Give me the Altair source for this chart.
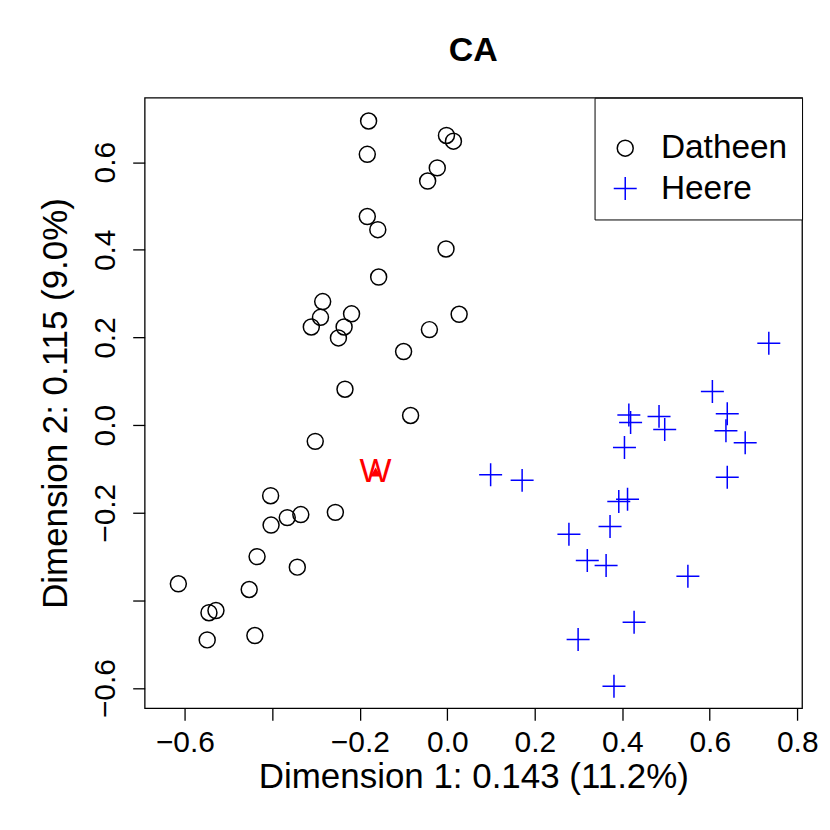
import altair as alt
import pandas as pd

# Datheen (circles)
dat_x = [-0.180, -0.002, 0.014, -0.183, -0.023, -0.045, -0.183, -0.159, -0.003, -0.157,
         -0.285, -0.290, -0.311, -0.219, -0.236, -0.249, 0.027, -0.041, -0.100, -0.234,
         -0.084, -0.302, -0.404, -0.366, -0.335, -0.256, -0.403, -0.435, -0.343, -0.615,
         -0.453, -0.529, -0.545, -0.440, -0.549]
dat_y = [0.694, 0.661, 0.648, 0.618, 0.587, 0.557, 0.476, 0.446, 0.402, 0.338,
         0.282, 0.246, 0.224, 0.254, 0.224, 0.199, 0.253, 0.218, 0.168, 0.082,
         0.022, -0.037, -0.161, -0.211, -0.204, -0.199, -0.228, -0.300, -0.324, -0.362,
         -0.375, -0.423, -0.428, -0.480, -0.490]

# Heere (crosses)
heere_x = [0.735, 0.606, 0.640, 0.415, 0.419, 0.484, 0.497, 0.637, 0.681, 0.405,
           0.099, 0.171, 0.640, 0.392, 0.412, 0.372, 0.278, 0.320, 0.363, 0.550,
           0.427, 0.299, 0.381]
heere_y = [0.187, 0.077, 0.026, 0.023, 0.006, 0.020, -0.010, -0.013, -0.040, -0.051,
           -0.113, -0.126, -0.119, -0.174, -0.169, -0.231, -0.249, -0.309, -0.320, -0.345,
           -0.450, -0.489, -0.596]

# Supplementary point "W"
w_x = [-0.164]
w_y = [-0.107]
w_label = ["W"]

groups = ["Datheen", "Heere"]
x_ticks = [-0.6, -0.4, -0.2, 0.0, 0.2, 0.4, 0.6, 0.8]
y_ticks = [-0.6, -0.4, -0.2, 0.0, 0.2, 0.4, 0.6]

df = pd.DataFrame({
    "dim1": dat_x + heere_x,
    "dim2": dat_y + heere_y,
    "group": [groups[0]] * len(dat_x) + [groups[1]] * len(heere_x),
})
df_w = pd.DataFrame({"dim1": w_x, "dim2": w_y, "label": w_label})

FONT = "Liberation Sans"
CROSS = "M-1.44,0H1.44M0,-1.44V1.44"

label_expr = "abs(datum.value + 0.4) < 1e-9 ? '' : format(datum.value, '.1f')"

x_enc = alt.X(
    "dim1:Q",
    title="Dimension 1: 0.143 (11.2%)",
    scale=alt.Scale(domain=[-0.692, 0.811], nice=False, zero=False),
    axis=alt.Axis(values=x_ticks, labelExpr=label_expr, labelBaseline="alphabetic",
                  labelPadding=31.7, titleBaseline="alphabetic", titleY=79.4, titleX=329.5),
)
y_enc = alt.Y(
    "dim2:Q",
    title="Dimension 2: 0.115 (9.0%)",
    scale=alt.Scale(domain=[-0.646, 0.747], nice=False, zero=False),
    axis=alt.Axis(values=y_ticks, labelExpr=label_expr, labelAngle=-90, labelAlign="center",
                  labelBaseline="alphabetic", labelPadding=18.7, titleAngle=-90,
                  titleBaseline="alphabetic", titleX=-78, titleY=306, titleAlign="center"),
)

legend = alt.Legend(
    title=" ", orient="none", legendX=451, legendY=0, direction="vertical",
    strokeColor="black", fillColor="white", padding=14,
    symbolSize=256, symbolStrokeWidth=1.5, labelFont=FONT, labelFontSize=33.5,
    labelColor="black", labelOffset=19, rowPadding=5.5,
    titleFontSize=8, titlePadding=11.8,
)

points = alt.Chart(df).mark_point(size=256, strokeWidth=1.5, filled=False, opacity=1).encode(
    x=x_enc,
    y=y_enc,
    shape=alt.Shape("group:N", scale=alt.Scale(domain=groups, range=["circle", CROSS]), legend=legend),
    color=alt.Color("group:N", scale=alt.Scale(domain=groups, range=["black", "#0000ff"]), legend=legend),
)

w_tri = alt.Chart(df_w).mark_point(shape="triangle-up", filled=True, size=110, color="#ff0000", opacity=1).encode(
    x=x_enc, y=y_enc
)
w_text = alt.Chart(df_w).mark_text(font=FONT, fontSize=34, color="#ff0000", align="center", baseline="middle").encode(
    x=x_enc, y=y_enc, text="label:N"
)

chart = alt.layer(points, w_tri, w_text).properties(
    width=659, height=612,
    background="white",
    title=alt.Title("CA", font=FONT, fontSize=34, fontWeight="bold", color="black",
                    anchor="middle", baseline="alphabetic", offset=2),
    padding={"left": 137, "top": 89, "right": 20, "bottom": 100},
    autosize=alt.AutoSizeParams(type="none"),
).configure_view(
    stroke="black", strokeWidth=1.3
).configure_axis(
    grid=False, domain=False, tickColor="black", tickSize=12, tickWidth=1.3,
    labelFont=FONT, labelFontSize=30, labelColor="black", labelFlush=False, labelOverlap=False,
    titleFont=FONT, titleFontSize=35, titleFontWeight="normal", titleColor="black",
)

chart.save("out.html", embed_options={"renderer": "svg", "actions": False})
